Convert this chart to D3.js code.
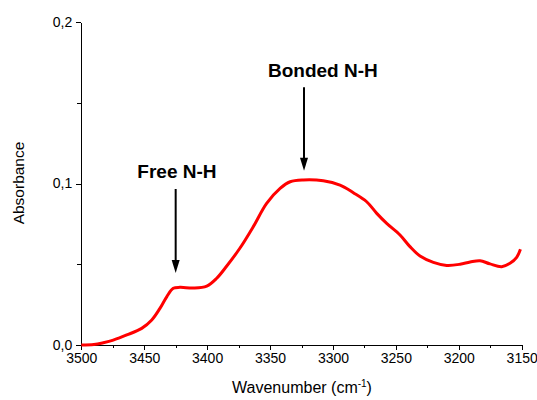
<!DOCTYPE html>
<html lang="en">
<head>
    <meta charset="UTF-8">
    <title>FTIR N-H</title>
    <script src="https://cdn.jsdelivr.net/npm/d3@7"></script>
    <style>
        body{ margin: 0; background: #fff; }
        text{ font-family: Arial, "Liberation Sans", sans-serif; fill: #000; }
        .axis path, .axis line{ stroke: #000; stroke-width: 1; shape-rendering: crispEdges; }
    </style>
</head>
<body>
    <svg id="main-svg" width="537" height="400"></svg>

    <script>
        // spectrum (wavenumber cm-1, absorbance)
        const wavenumbers = [3500, 3490, 3482.5, 3474.6, 3463.9, 3452, 3444, 3437.5, 3432, 3426.9, 3421.6, 3411, 3400.3, 3392.4, 3384.4,
            3374, 3363.3, 3352.7, 3342, 3334, 3323.6, 3307.7, 3294.4, 3283.8, 3273.2, 3265.2, 3257.3, 3246.7, 3238.8,
            3230.8, 3220.2, 3209.6, 3199, 3191, 3183.1, 3175.2, 3165.9, 3159.3, 3154, 3151];
        const absorbance = [0, 0.0003, 0.0014, 0.003, 0.0062, 0.0103, 0.0155, 0.0227, 0.030, 0.0351, 0.0357, 0.0353, 0.0365, 0.0413, 0.0489,
            0.0599, 0.0733, 0.0877, 0.097, 0.1011, 0.1022, 0.1017, 0.099, 0.0943, 0.0887, 0.0815, 0.0753, 0.0681, 0.0609,
            0.0551, 0.0512, 0.0493, 0.050, 0.0514, 0.0522, 0.0502, 0.0485, 0.0506, 0.0543, 0.0593];

        const xTicks = [3500, 3450, 3400, 3350, 3300, 3250, 3200, 3150];
        const xMinor = [3475, 3425, 3375, 3325, 3275, 3225, 3175];
        const yTicks = [0, 0.1, 0.2];
        const yMinor = [0.05, 0.15];

        // annotations: label, arrow wavenumber, label wavenumber, label y, arrow top, arrow tip
        const noteLabels = ['Free N-H', 'Bonded N-H'];
        const noteArrowX = [3425, 3323];
        const noteTextX = [3424, 3308];
        const noteTextY = [0.1034, 0.166];
        const noteArrowTop = [0.0966, 0.1596];
        const noteArrowTip = [0.0446, 0.1079];

        const fmt = d => d3.format('.1f')(d).replace('.', ',');

        let svg = d3.select('#main-svg');
        let x = d3.scaleLinear().domain([3500, 3150]).range([81.3, 521.7]);
        let y = d3.scaleLinear().domain([0, 0.2]).range([345, 22]);

        // minor ticks first, then major axes over them
        svg.append('g').attr('class', 'axis')
            .attr('transform', 'translate(0,345)')
            .call(d3.axisBottom(x).tickValues(xMinor).tickSize(3).tickFormat('').tickSizeOuter(0))
            .select('.domain').remove();
        svg.append('g').attr('class', 'axis')
            .attr('transform', 'translate(81.3,0)')
            .call(d3.axisLeft(y).tickValues(yMinor).tickSize(4).tickFormat('').tickSizeOuter(0))
            .select('.domain').remove();

        let xAxis = svg.append('g').attr('class', 'axis')
            .attr('transform', 'translate(0,345)')
            .call(d3.axisBottom(x).tickValues(xTicks).tickSize(5).tickSizeOuter(0).tickPadding(3).tickFormat(d3.format('d')));
        xAxis.selectAll('text').style('font-size', '14px');

        let yAxis = svg.append('g').attr('class', 'axis')
            .attr('transform', 'translate(81.3,0)')
            .call(d3.axisLeft(y).tickValues(yTicks).tickSize(5).tickSizeOuter(0).tickPadding(4).tickFormat(fmt));
        yAxis.selectAll('text').style('font-size', '14px');

        // axis titles
        let xt = svg.append('text')
            .attr('x', 302).attr('y', 393)
            .attr('text-anchor', 'middle')
            .style('font-size', '16px');
        xt.append('tspan').text('Wavenumber (cm');
        xt.append('tspan').text('-1').attr('dy', -6).style('font-size', '10px');
        xt.append('tspan').text(')').attr('dy', 6);

        svg.append('text')
            .attr('transform', 'translate(24,183) rotate(-90)')
            .attr('text-anchor', 'middle')
            .style('font-size', '15.5px')
            .text('Absorbance');

        // spectrum
        let line = d3.line()
            .x((d, i) => x(wavenumbers[i]))
            .y(d => y(d))
            .curve(d3.curveCatmullRom.alpha(0.5));

        svg.append('path')
            .datum(absorbance)
            .attr('d', line)
            .attr('fill', 'none')
            .attr('stroke', '#ff0000')
            .attr('stroke-width', 3)
            .attr('stroke-linejoin', 'round');

        // arrows and labels
        let notes = svg.selectAll('.note')
            .data(noteLabels)
            .enter()
            .append('g')
            .classed('note', true);

        notes.append('text')
            .attr('x', (d, i) => x(noteTextX[i]))
            .attr('y', (d, i) => y(noteTextY[i]))
            .attr('text-anchor', 'middle')
            .style('font-size', '19px')
            .style('font-weight', 'bold')
            .text(d => d);

        notes.append('line')
            .attr('x1', (d, i) => x(noteArrowX[i]))
            .attr('x2', (d, i) => x(noteArrowX[i]))
            .attr('y1', (d, i) => y(noteArrowTop[i]))
            .attr('y2', (d, i) => y(noteArrowTip[i]) - 10)
            .attr('stroke', '#000')
            .attr('stroke-width', 2);

        notes.append('path')
            .attr('d', (d, i) => {
                let ax = x(noteArrowX[i]), ty = y(noteArrowTip[i]);
                return `M${ax - 4},${ty - 13}L${ax + 4},${ty - 13}L${ax},${ty}Z`;
            })
            .attr('fill', '#000');
    </script>
</body>
</html>
